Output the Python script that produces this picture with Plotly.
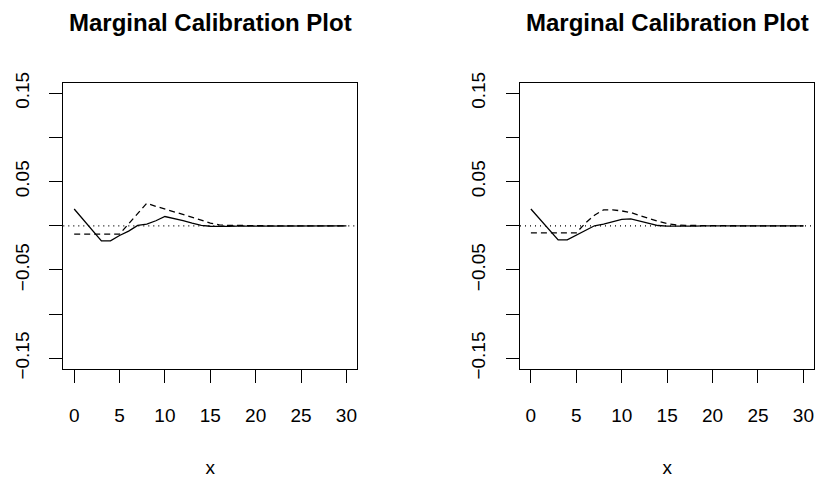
import plotly.graph_objects as go

# ---- data ----
x_vals = list(range(0, 31))

left_solid = [0.019, 0.007, -0.005, -0.017, -0.017, -0.011, -0.006, 0.0005, 0.002, 0.0057,
              0.0105, 0.0085, 0.0058, 0.003, 0.0005, -0.0005, -0.0008, -0.0006, -0.0004, -0.0003,
              -0.0002, -0.0001, -0.0001, 0.0, 0.0, 0.0, 0.0, 0.0, 0.0, 0.0, 0.0]
left_dashed = [-0.0094, -0.0094, -0.0094, -0.0094, -0.0094, -0.0094, 0.0022, 0.0139, 0.0255, 0.022,
               0.019, 0.0158, 0.0125, 0.0095, 0.0065, 0.003, 0.001, 0.0005, 0.0002, 0.0001,
               0.0001, 0.0, 0.0, 0.0, 0.0, 0.0, 0.0, 0.0, 0.0, 0.0, 0.0]
right_solid = [0.019, 0.0075, -0.004, -0.016, -0.016, -0.0105, -0.005, 0.0, 0.002, 0.0045,
               0.0072, 0.0078, 0.0055, 0.0028, 0.0003, -0.0004, -0.0006, -0.0005, -0.0003, -0.0002,
               -0.0001, -0.0001, 0.0, 0.0, 0.0, 0.0, 0.0, 0.0, 0.0, 0.0, 0.0]
right_dashed = [-0.008, -0.008, -0.008, -0.008, -0.008, -0.008, 0.003, 0.012, 0.018, 0.018,
                0.0168, 0.015, 0.0115, 0.008, 0.005, 0.0025, 0.001, 0.0004, 0.0002, 0.0001,
                0.0001, 0.0, 0.0, 0.0, 0.0, 0.0, 0.0, 0.0, 0.0, 0.0, 0.0]

x_ticks = [0, 5, 10, 15, 20, 25, 30]
y_ticks = [-0.15, -0.10, -0.05, 0.0, 0.05, 0.10, 0.15]
y_ticktext = ["\u22120.15", "", "\u22120.05", "", "0.05", "", "0.15"]
panel_title = "Marginal Calibration Plot"
x_label = "x"

W, H = 819, 478
FONT = "Liberation Sans, Arial, Helvetica, sans-serif"

fig = go.Figure()

panels = [("x", "y", left_solid, left_dashed), ("x2", "y2", right_solid, right_dashed)]
for xa, ya, solid, dashed in panels:
    fig.add_trace(go.Scatter(x=x_vals, y=solid, mode="lines", xaxis=xa, yaxis=ya,
                             line=dict(color="black", width=1.3), showlegend=False,
                             hoverinfo="skip"))
    fig.add_trace(go.Scatter(x=x_vals, y=dashed, mode="lines", xaxis=xa, yaxis=ya,
                             line=dict(color="black", width=1.3, dash="6px,4px"),
                             showlegend=False, hoverinfo="skip"))
    fig.add_shape(type="line", xref=f"{xa} domain", yref=ya, x0=0, x1=1, y0=0, y1=0,
                  line=dict(color="black", width=1.2, dash="1px,4px"))
    fig.add_annotation(text=f"<b>{panel_title}</b>", xref=f"{xa} domain", yref="paper",
                       x=0.5, y=1 - 22 / H, yanchor="middle", xanchor="center",
                       showarrow=False, font=dict(size=24, family=FONT, color="black"),
                       yshift=9)

y_top = 1 - 75 / H
y_bot = 1 - 375.3 / H

common_x = dict(range=[-1.2, 31.2], tickvals=x_ticks, ticks="outside", ticklen=13,
                tickwidth=1, tickcolor="black", showline=True, linecolor="black",
                linewidth=1.2, mirror=True, showgrid=False, zeroline=False,
                tickfont=dict(size=19, family=FONT, color="black"),
                ticklabelstandoff=16,
                title=dict(text=x_label, font=dict(size=19, family=FONT, color="black"),
                           standoff=36))
common_y = dict(range=[-0.162, 0.162], tickvals=y_ticks, ticktext=y_ticktext,
                ticks="outside", ticklen=13, tickwidth=1, tickcolor="black",
                showline=True, linecolor="black", linewidth=1.2, mirror=True,
                showgrid=False, zeroline=False, tickangle=-90,
                tickfont=dict(size=19, family=FONT, color="black"),
                ticklabelstandoff=13)

fig.update_layout(
    width=W, height=H,
    margin=dict(l=0, r=0, t=0, b=0),
    paper_bgcolor="white", plot_bgcolor="white",
    font=dict(family=FONT, color="black"),
    xaxis=dict(domain=[63.3 / W, 357.3 / W], anchor="y", **common_x),
    yaxis=dict(domain=[y_bot, y_top], anchor="x", **common_y),
    xaxis2=dict(domain=[520 / W, 814.3 / W], anchor="y2", **common_x),
    yaxis2=dict(domain=[y_bot, y_top], anchor="x2", **common_y),
)

fig.write_html("out.html")
